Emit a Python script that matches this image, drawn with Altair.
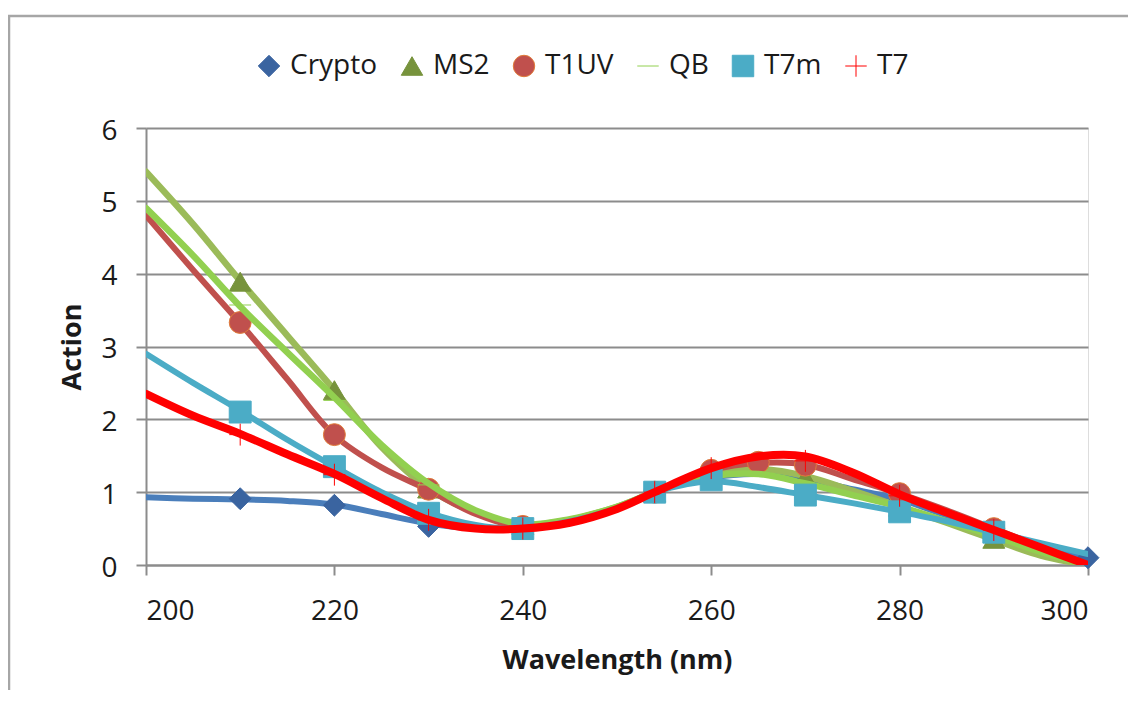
import altair as alt
import pandas as pd

# ---------------- data ----------------
series = ["Crypto", "MS2", "T1UV", "QB", "T7m", "T7"]

wl_line = [200, 205, 210, 215, 220, 225, 230, 235, 240, 245, 250, 254,
           260, 265, 270, 275, 280, 285, 290, 295, 300]

crypto_line = [0.93, 0.91, 0.90, 0.88, 0.83, 0.70, 0.57, 0.50, 0.50, 0.60, 0.78, 1.00,
               1.20, 1.25, 1.18, 1.04, 0.90, 0.68, 0.46, 0.28, 0.10]
ms2_line = [5.40, 4.68, 3.90, 3.15, 2.40, 1.62, 1.05, 0.72, 0.55, 0.62, 0.80, 1.00,
            1.27, 1.32, 1.22, 1.02, 0.80, 0.58, 0.35, 0.13, 0.00]
t1uv_line = [4.80, 4.05, 3.32, 2.55, 1.78, 1.34, 1.03, 0.70, 0.52, 0.60, 0.78, 1.00,
             1.30, 1.40, 1.38, 1.18, 0.98, 0.75, 0.50, 0.25, 0.00]
qb_line = [4.90, 4.25, 3.55, 2.92, 2.30, 1.65, 1.12, 0.75, 0.56, 0.63, 0.80, 1.00,
           1.22, 1.25, 1.12, 0.96, 0.80, 0.60, 0.40, 0.18, 0.00]
t7m_line = [2.90, 2.50, 2.12, 1.72, 1.35, 1.00, 0.72, 0.55, 0.50, 0.60, 0.78, 1.00,
            1.15, 1.07, 0.96, 0.85, 0.73, 0.60, 0.45, 0.30, 0.15]
t7_line = [2.35, 2.05, 1.80, 1.52, 1.25, 0.92, 0.62, 0.50, 0.50, 0.58, 0.77, 1.00,
           1.33, 1.49, 1.49, 1.27, 0.97, 0.72, 0.48, 0.24, 0.00]

mk_x = [210, 220, 230, 240, 254, 260, 270, 280, 290]
crypto_mk_x = [210, 220, 230, 240, 254, 260, 270, 280, 290, 300]
t1uv_mk_x = [210, 220, 230, 240, 254, 260, 265, 270, 280, 290]

crypto_mk = [0.91, 0.82, 0.53, 0.50, 1.00, 1.20, 1.15, 0.88, 0.45, 0.10]
ms2_mk = [3.89, 2.40, 1.05, 0.55, 1.00, 1.27, 1.20, 0.80, 0.36]
t1uv_mk = [3.33, 1.79, 1.04, 0.53, 1.00, 1.30, 1.41, 1.37, 0.98, 0.50]
qb_mk = [3.57, 2.26, 1.10, 0.56, 1.00, 1.22, 1.12, 0.80, 0.40]
t7m_mk = [2.10, 1.35, 0.71, 0.50, 1.00, 1.17, 0.96, 0.73, 0.45]
t7_mk = [1.79, 1.24, 0.62, 0.50, 1.00, 1.33, 1.43, 0.95, 0.48]

x_ticks = [200, 220, 240, 260, 280, 300]
y_ticks = [0, 1, 2, 3, 4, 5, 6]

# ---------------- styles ----------------
line_colors = ["#4A7EBB", "#9BBB59", "#C0504D", "#92D050", "#4BACC6", "#FF0000"]
line_widths = [6, 6.5, 6, 6.5, 6, 8]
marker_fill = ["#3A64A0", "#77933C", "#C0504D", "#92D050", "#4BACC6", "#FF0000"]
marker_stroke = ["#3A64A0", "#77933C", "#E07B39", "#92D050", "#4BACC6", "#FF0000"]
marker_shapes = ["diamond", "triangle-up", "circle", "stroke", "square", "M-1,0H1M0,-1V1"]
marker_sw = [1, 1, 1.5, 5, 1, 2.5]

FONT = "Open Sans"
GRAY = "#8C8C8C"
TXT = "#1A1A1A"

line_rows = []
for s, vals in zip(series, [crypto_line, ms2_line, t1uv_line, qb_line, t7m_line, t7_line]):
    for w, v in zip(wl_line, vals):
        line_rows.append({"series": s, "wl": w, "value": v})
lines_df = pd.DataFrame(line_rows)

mk_rows = []
for s, xs, vals in zip(series,
                       [crypto_mk_x, mk_x, t1uv_mk_x, mk_x, mk_x, mk_x],
                       [crypto_mk, ms2_mk, t1uv_mk, qb_mk, t7m_mk, t7_mk]):
    for w, v in zip(xs, vals):
        mk_rows.append({"series": s, "wl": w, "value": v})
marks_df = pd.DataFrame(mk_rows)

X = alt.X("wl:Q",
          scale=alt.Scale(domain=[200, 300], nice=False, zero=False),
          axis=alt.Axis(values=x_ticks, grid=False, tickSize=10, tickWidth=2,
                        tickColor=GRAY, domainColor=GRAY, domainWidth=2,
                        labelFontSize=28, labelPadding=22, labelColor=TXT,
                        labelFont=FONT, title="Wavelength (nm)", titleFont=FONT,
                        titleFontSize=27, titleFontWeight="bold", titleColor=TXT,
                        titleX=471, titleY=95, titleBaseline="middle", titleAlign="center"))
Y = alt.Y("value:Q",
          scale=alt.Scale(domain=[0, 6], nice=False),
          axis=alt.Axis(values=y_ticks, grid=True, gridColor=GRAY, gridWidth=2,
                        tickSize=10, tickWidth=2, tickColor=GRAY,
                        domainColor=GRAY, domainWidth=2,
                        labelFontSize=28, labelPadding=19, labelOffset=3, labelColor=TXT,
                        labelFont=FONT, title="Action", titleFont=FONT,
                        titleFontSize=27, titleFontWeight="bold", titleColor=TXT,
                        titleX=-74, titleY=218.5, titleAngle=-90,
                        titleBaseline="middle", titleAlign="center"))

leg = alt.Legend(title=None, orient="none", direction="horizontal",
                 legendX=109, legendY=-76, labelFontSize=28, labelFont=FONT,
                 labelColor=TXT, symbolSize=460, labelOffset=7,
                 columnPadding=20, padding=0, symbolStrokeWidth=3.5,
                 symbolOpacity=1)

color_enc = alt.Color("series:N", scale=alt.Scale(domain=series, range=marker_fill), legend=leg)
shape_enc = alt.Shape("series:N", scale=alt.Scale(domain=series, range=marker_shapes), legend=leg)
stroke_enc = alt.Stroke("series:N", scale=alt.Scale(domain=series, range=marker_stroke), legend=leg)
sw_enc = alt.StrokeWidth("series:N", scale=alt.Scale(domain=series, range=marker_sw), legend=None)

# outer frame (decoration)
frame = alt.Chart(pd.DataFrame({"a": [0]})).mark_rect(
    fillOpacity=0, stroke="#A6A6A6", strokeWidth=2.5, clip=False
).encode(x=alt.value(-137), y=alt.value(-112), x2=alt.value(1100), y2=alt.value(700))

layers = [frame]
for i, s in enumerate(series):
    ln = alt.Chart(lines_df).transform_filter(alt.datum.series == s).mark_line(
        color=line_colors[i], strokeWidth=line_widths[i], interpolate="catmull-rom",
        clip=True, strokeCap="round", strokeJoin="round"
    ).encode(x=X, y=Y)
    pt = alt.Chart(marks_df).transform_filter(alt.datum.series == s).mark_point(
        filled=True, opacity=1, size=480, clip=False
    ).encode(x=X, y=Y, color=color_enc, shape=shape_enc, stroke=stroke_enc, strokeWidth=sw_enc)
    layers += [ln, pt]

chart = alt.layer(*layers).properties(
    width=942, height=437,
    autosize=alt.AutoSizeParams(type="none"),
    padding={"left": 138, "top": 120, "right": 40, "bottom": 125},
).configure_view(stroke=None).configure(background="white", font=FONT)

chart.save("out.html", embed_options={"renderer": "svg", "actions": False})
